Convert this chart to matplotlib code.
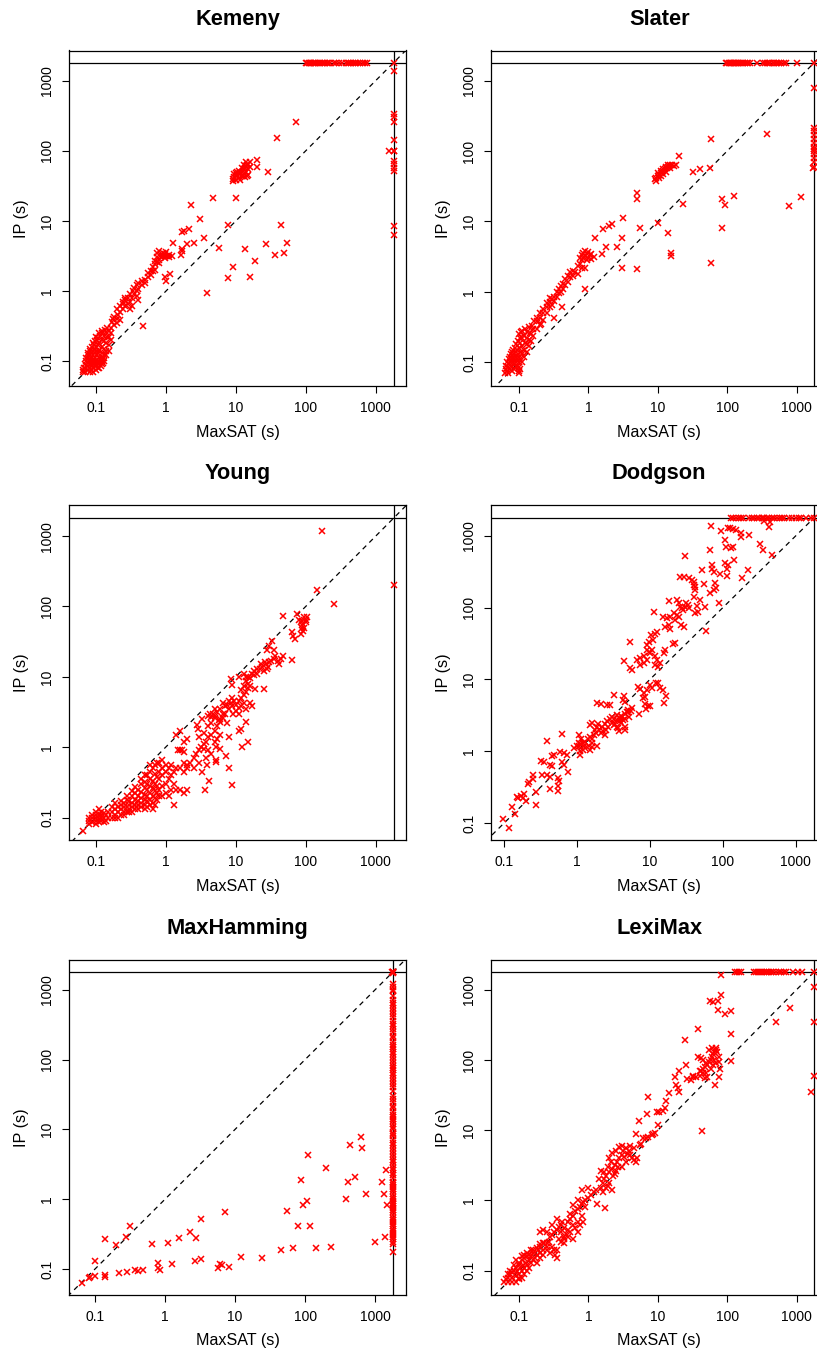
import matplotlib

matplotlib.use("Agg")
import matplotlib.pyplot as plt
from matplotlib.ticker import FixedFormatter, FixedLocator, NullLocator

plt.rcParams["font.family"] = ["Liberation Sans", "DejaVu Sans"]

TIMEOUT = 1800  # seconds, both solvers

# ---------------------------------------------------------------- Kemeny
# (MaxSAT seconds, IP seconds) for instances solved by both
kemeny_points = [
    (0.065, 0.07), (0.065, 0.075), (0.066, 0.08),
    (0.07, 0.07), (0.07, 0.08), (0.07, 0.09), (0.071, 0.1), (0.072, 0.11),
    (0.075, 0.075), (0.075, 0.085), (0.076, 0.095), (0.075, 0.11), (0.077, 0.12), (0.076, 0.13),
    (0.08, 0.07), (0.08, 0.08), (0.081, 0.09), (0.08, 0.1), (0.08, 0.12), (0.082, 0.14), (0.08, 0.15),
    (0.085, 0.075), (0.085, 0.09), (0.086, 0.1), (0.085, 0.11), (0.085, 0.13), (0.087, 0.16),
    (0.09, 0.08), (0.09, 0.09), (0.091, 0.1), (0.09, 0.12), (0.09, 0.14), (0.092, 0.17), (0.09, 0.18),
    (0.095, 0.085), (0.095, 0.1), (0.096, 0.11), (0.095, 0.13), (0.095, 0.15), (0.097, 0.19),
    (0.1, 0.075), (0.1, 0.09), (0.1, 0.1), (0.101, 0.12), (0.1, 0.14), (0.1, 0.16), (0.102, 0.2), (0.1, 0.22),
    (0.105, 0.08), (0.105, 0.1), (0.106, 0.13), (0.105, 0.17), (0.107, 0.21),
    (0.11, 0.09), (0.11, 0.11), (0.111, 0.14), (0.11, 0.18), (0.112, 0.23), (0.11, 0.25),
    (0.12, 0.11), (0.12, 0.13), (0.121, 0.16), (0.12, 0.2), (0.122, 0.25), (0.12, 0.27),
    (0.13, 0.12), (0.13, 0.15), (0.131, 0.19), (0.13, 0.23), (0.132, 0.28),
    (0.14, 0.14), (0.14, 0.18), (0.141, 0.22), (0.14, 0.26), (0.142, 0.3),
    (0.15, 0.17), (0.15, 0.22), (0.152, 0.27), (0.16, 0.2), (0.16, 0.25), (0.162, 0.3),
    (0.11, 0.08), (0.115, 0.085), (0.12, 0.09), (0.125, 0.095), (0.13, 0.1), (0.12, 0.1),
    (0.13, 0.11), (0.14, 0.12), (0.15, 0.14), (0.1, 0.085), (0.105, 0.09), (0.09, 0.07),
    (0.17, 0.36), (0.172, 0.4), (0.18, 0.33), (0.18, 0.42),
    (0.2, 0.35), (0.2, 0.4), (0.202, 0.45), (0.2, 0.55), (0.22, 0.38), (0.22, 0.5), (0.222, 0.6),
    (0.24, 0.55), (0.24, 0.65), (0.242, 0.7), (0.26, 0.6), (0.26, 0.75), (0.262, 0.8),
    (0.28, 0.65), (0.28, 0.8), (0.3, 0.55), (0.3, 0.7), (0.302, 0.9),
    (0.33, 0.6), (0.33, 0.8), (0.332, 1.0), (0.35, 0.9), (0.35, 1.1),
    (0.38, 0.85), (0.38, 1.0), (0.382, 1.2), (0.4, 0.75), (0.4, 1.05), (0.402, 1.3),
    (0.45, 1.2), (0.45, 1.4), (0.5, 1.3), (0.5, 1.45), (0.55, 1.6), (0.55, 1.8),
    (0.6, 1.7), (0.6, 1.9), (0.65, 1.9), (0.65, 2.2), (0.7, 2.0), (0.7, 2.4), (0.7, 2.7),
    (0.75, 2.6), (0.75, 3.0), (0.75, 3.5), (0.8, 2.5), (0.8, 2.8), (0.8, 3.7),
    (0.85, 3.0), (0.85, 3.3), (0.9, 3.2), (0.9, 3.5), (0.95, 2.9), (0.95, 3.1), (0.95, 3.4),
    (1.0, 3.2), (1.0, 3.6), (1.1, 3.0), (1.1, 3.3), (1.2, 3.2),
    (0.46, 0.32), (1.0, 1.4), (0.97, 1.6), (1.14, 1.75),
    (1.27, 4.9), (1.67, 7.0), (1.8, 7.2), (2.1, 7.7), (2.25, 17), (4.7, 21), (10, 21),
    (3.1, 10.6), (7.7, 8.6), (44, 8.6), (3.5, 5.6), (2.5, 4.9), (2.0, 4.6),
    (1.67, 4.0), (1.7, 3.7), (1.65, 3.3), (5.8, 4.1), (3.8, 0.92),
    (7.8, 1.55), (9, 2.2), (13.4, 3.9), (16, 1.6), (19, 2.65), (27, 4.6), (36, 3.3),
    (49, 3.5), (54, 4.9), (73, 255), (39, 153), (20, 74), (20, 59), (29, 49),
    (9, 40), (9.5, 42), (10, 44), (10.5, 45), (11, 47), (11.5, 48), (12, 50), (12.5, 52),
    (13, 55), (13.5, 57), (14, 60), (14.5, 62), (15, 65), (10, 38), (11, 41), (12, 44),
    (13, 46), (14, 50), (15, 54), (16, 58), (11, 52), (12, 57), (13, 62), (10.5, 50),
    (9.5, 46), (16, 68), (14, 68), (12.5, 44), (13.5, 42), (15, 45), (11.5, 38), (10, 48),
    (9.2, 37), (14.3, 44), (1570, 100),
]
# MaxSAT time of instances where IP hit the timeout
kemeny_ip_timeout = [
    100, 105, 110, 115, 120, 125, 130, 135, 140, 150, 160, 170, 180, 190, 200, 210, 220,
    250, 270, 300, 330, 380, 400, 420, 450, 480, 500, 530, 560, 600, 650, 700, 750, 1800,
]
# IP time of instances where MaxSAT hit the timeout
kemeny_maxsat_timeout = [1390, 330, 300, 260, 140, 100, 98, 72, 65, 57, 52, 8.5, 6.2]

# ---------------------------------------------------------------- Slater
slater_points = [
    (0.062, 0.07), (0.065, 0.08), (0.066, 0.09), (0.068, 0.1), (0.068, 0.075),
    (0.07, 0.07), (0.07, 0.085), (0.072, 0.095), (0.072, 0.11), (0.073, 0.12),
    (0.075, 0.08), (0.076, 0.09), (0.075, 0.1), (0.077, 0.13), (0.078, 0.14),
    (0.08, 0.075), (0.08, 0.085), (0.081, 0.1), (0.08, 0.11), (0.082, 0.12), (0.081, 0.15),
    (0.085, 0.08), (0.085, 0.095), (0.086, 0.11), (0.085, 0.13), (0.087, 0.16),
    (0.09, 0.085), (0.09, 0.1), (0.091, 0.12), (0.09, 0.14), (0.092, 0.18),
    (0.095, 0.09), (0.095, 0.11), (0.096, 0.13), (0.095, 0.15), (0.097, 0.2),
    (0.1, 0.07), (0.1, 0.075), (0.1, 0.085), (0.1, 0.1), (0.101, 0.12), (0.1, 0.16),
    (0.102, 0.22), (0.1, 0.25), (0.105, 0.08), (0.105, 0.11), (0.106, 0.14),
    (0.105, 0.19), (0.107, 0.27), (0.11, 0.1), (0.11, 0.13), (0.111, 0.17), (0.11, 0.22),
    (0.112, 0.28), (0.12, 0.12), (0.12, 0.15), (0.121, 0.19), (0.12, 0.24), (0.122, 0.3),
    (0.13, 0.14), (0.13, 0.18), (0.131, 0.22), (0.13, 0.27), (0.14, 0.17), (0.14, 0.21),
    (0.142, 0.26), (0.14, 0.32), (0.15, 0.2), (0.15, 0.25), (0.152, 0.33),
    (0.16, 0.24), (0.16, 0.3), (0.162, 0.38), (0.18, 0.3), (0.18, 0.38), (0.182, 0.43),
    (0.2, 0.34), (0.2, 0.42), (0.202, 0.5), (0.22, 0.4), (0.22, 0.5), (0.225, 0.58),
    (0.25, 0.5), (0.25, 0.6), (0.252, 0.7), (0.28, 0.6), (0.28, 0.72), (0.282, 0.82),
    (0.3, 0.65), (0.3, 0.78), (0.32, 0.75), (0.32, 0.85), (0.35, 0.85), (0.35, 1.0),
    (0.38, 0.95), (0.38, 1.1), (0.4, 1.0), (0.4, 1.2), (0.43, 1.1), (0.43, 1.3),
    (0.46, 1.25), (0.46, 1.5), (0.5, 1.4), (0.5, 1.7), (0.55, 1.6), (0.55, 1.9),
    (0.6, 1.7), (0.6, 2.0), (0.65, 1.9), (0.7, 1.8), (0.7, 2.3), (0.75, 2.5), (0.75, 3.0),
    (0.8, 2.2), (0.8, 2.8), (0.8, 3.3), (0.85, 3.0), (0.85, 3.6), (0.9, 2.2), (0.9, 3.2),
    (0.9, 3.8), (0.95, 2.8), (0.95, 3.5), (1.0, 3.0), (1.0, 3.7), (1.05, 3.3), (1.1, 2.9),
    (1.1, 3.4), (1.2, 3.1),
    (0.21, 0.35), (0.32, 0.42), (0.41, 0.6), (0.9, 1.1),
    (1.25, 5.9), (3.1, 5.8), (1.56, 3.5), (1.8, 4.4), (2.6, 4.3), (1.65, 7.7), (1.95, 8.5),
    (2.2, 9.3), (3.2, 11.3), (3.05, 2.2), (5, 2.1), (5.1, 25), (5.1, 21), (5.5, 8),
    (10, 9.4), (14, 6.9), (15.3, 3.6), (15.3, 3.2), (23, 17.6), (58, 150), (380, 175),
    (20, 85), (32, 51), (41, 55), (56, 58), (85, 21), (92, 17), (125, 23), (780, 16.5),
    (1140, 22), (85, 8.1), (59, 2.55),
    (9, 40), (9.5, 42), (10, 44), (10.5, 46), (11, 48), (11.5, 50), (12, 52), (12.5, 55),
    (13, 57), (13.5, 58), (14, 60), (14.5, 62), (15, 63), (16, 64), (17, 62), (18, 64),
    (10, 48), (11, 52), (12, 55), (13, 60), (14, 64), (15, 58), (11, 44), (12, 47),
    (13, 50), (9.5, 38), (10.5, 41), (1700, 57),
]
slater_ip_timeout = [
    95, 100, 105, 110, 115, 120, 125, 130, 135, 140, 145, 150, 160, 170, 180, 190, 200,
    210, 270, 330, 350, 380, 400, 420, 450, 480, 500, 530, 560, 600, 650, 700, 1000, 1800,
]
slater_maxsat_timeout = [780, 210, 190, 170, 150, 130, 115, 105, 100, 90, 80, 70, 60]

# ---------------------------------------------------------------- Young
young_points = [
    (0.065, 0.065), (0.08, 0.08), (0.08, 0.09), (0.08, 0.1), (0.09, 0.085), (0.09, 0.1),
    (0.09, 0.11), (0.1, 0.08), (0.1, 0.09), (0.1, 0.1), (0.1, 0.11), (0.1, 0.12),
    (0.11, 0.085), (0.11, 0.095), (0.11, 0.11), (0.11, 0.13), (0.12, 0.09), (0.12, 0.1),
    (0.12, 0.11), (0.12, 0.12), (0.13, 0.085), (0.13, 0.1), (0.13, 0.115), (0.14, 0.09),
    (0.14, 0.11), (0.15, 0.1), (0.15, 0.12), (0.17, 0.1), (0.17, 0.12), (0.17, 0.14),
    (0.19, 0.1), (0.19, 0.11), (0.19, 0.13), (0.19, 0.16), (0.21, 0.1), (0.21, 0.12),
    (0.21, 0.14), (0.23, 0.11), (0.23, 0.13), (0.23, 0.15), (0.23, 0.17), (0.25, 0.11),
    (0.25, 0.12), (0.25, 0.14), (0.25, 0.16), (0.28, 0.12), (0.28, 0.14), (0.28, 0.18),
    (0.28, 0.2), (0.3, 0.12), (0.3, 0.13), (0.3, 0.15), (0.3, 0.17), (0.33, 0.12),
    (0.33, 0.14), (0.33, 0.16), (0.33, 0.2), (0.33, 0.24), (0.36, 0.13), (0.36, 0.15),
    (0.36, 0.18), (0.36, 0.22), (0.36, 0.27), (0.4, 0.13), (0.4, 0.15), (0.4, 0.17),
    (0.4, 0.2), (0.4, 0.25), (0.45, 0.14), (0.45, 0.16), (0.45, 0.19), (0.45, 0.23),
    (0.45, 0.3), (0.45, 0.35), (0.5, 0.13), (0.5, 0.15), (0.5, 0.18), (0.5, 0.21),
    (0.5, 0.26), (0.5, 0.32), (0.5, 0.4), (0.55, 0.14), (0.55, 0.17), (0.55, 0.2),
    (0.55, 0.25), (0.55, 0.3), (0.55, 0.4), (0.6, 0.15), (0.6, 0.18), (0.6, 0.22),
    (0.6, 0.28), (0.6, 0.35), (0.6, 0.45), (0.6, 0.55), (0.65, 0.13), (0.65, 0.16),
    (0.65, 0.2), (0.65, 0.26), (0.65, 0.33), (0.65, 0.5), (0.7, 0.15), (0.7, 0.19),
    (0.7, 0.24), (0.7, 0.3), (0.7, 0.42), (0.7, 0.55), (0.75, 0.18), (0.75, 0.22),
    (0.75, 0.28), (0.75, 0.38), (0.75, 0.6), (0.8, 0.2), (0.8, 0.25), (0.8, 0.35),
    (0.8, 0.45), (0.8, 0.6), (0.9, 0.2), (0.9, 0.28), (0.9, 0.4), (0.9, 0.5), (0.9, 0.65),
    (1.0, 0.22), (1.0, 0.3), (1.0, 0.45), (1.0, 0.55), (1.1, 0.2), (1.1, 0.35), (1.1, 0.5),
    (1.2, 0.25), (1.2, 0.4), (1.2, 0.55), (1.3, 0.15), (1.3, 0.3), (1.3, 0.45),
    (1.4, 0.25), (1.4, 0.5), (1.4, 1.5), (1.5, 0.9), (1.6, 0.25), (1.6, 0.5), (1.6, 0.9),
    (1.6, 1.7), (1.7, 0.9), (1.8, 0.22), (1.8, 0.45), (1.8, 0.6), (1.8, 0.85), (1.8, 1.2),
    (2.0, 0.25), (2.0, 0.5), (2.0, 1.3),
    (2, 0.55), (2.2, 0.6), (2.5, 0.7), (2.7, 0.8), (3, 0.9), (3.2, 1.0), (3.5, 1.1),
    (3.8, 1.2), (4, 1.4), (4.5, 1.5), (5, 1.7), (5.5, 2.0), (6, 2.3), (6.5, 2.6), (3, 1.4),
    (3.5, 1.6), (4, 2.0), (4.5, 2.2), (5, 2.6), (2.8, 2.1), (2.9, 1.8), (3.3, 2.5),
    (4, 2.8), (4.3, 3.0), (5, 1.2), (5.5, 1.3), (6, 1.5), (4.5, 0.8), (4, 0.9), (3, 0.6),
    (2.5, 0.5), (3.8, 0.7), (6, 0.95), (5.2, 1.0), (5.2, 0.65), (5.3, 0.62), (3.5, 0.95),
    (3.3, 0.45), (3.9, 0.55), (4.2, 0.33), (3.7, 0.245), (7.3, 0.76), (8.1, 0.5),
    (9, 0.29), (7.4, 2.2), (8, 1.4),
    (5, 2.8), (5.5, 3.2), (6, 3.5), (6.5, 3.0), (7, 3.8), (7.5, 4.0), (8, 3.5), (8.5, 4.2),
    (9, 3.8), (9.5, 4.5), (10, 4.0), (11, 4.5), (12, 5.0), (13, 5.5), (14, 6.0), (15, 7.0),
    (12, 3.8), (10, 3.3), (11, 3.6), (8, 4.5), (7, 3.0), (6, 2.5), (5, 3.5), (6.5, 4.2),
    (9, 5), (13, 4.2), (16, 4.2), (17, 3.8), (14, 3.5), (5.8, 2.4), (4.5, 2.7), (4.8, 3.0),
    (16, 7.5), (15, 8), (14, 8.8), (13, 7.5), (12, 6.5), (9.2, 3.0), (11, 3.0), (11, 1.7),
    (12, 1.8), (14.2, 2.3), (12.3, 1.0), (15, 1.2), (8.5, 9.2), (9, 7.6), (11, 10),
    (13, 11), (14, 10), (19, 6.8), (25, 6.8),
    (15, 10), (17, 11), (18, 12), (20, 11), (22, 13), (24, 14), (25, 12), (27, 15),
    (28, 13), (30, 16), (32, 17), (35, 18), (20, 13), (16, 9.5), (18, 10.5), (23, 15),
    (26, 16), (29, 14), (33, 32), (30, 27), (28, 24), (35, 24), (37, 20), (40, 17),
    (47, 20), (45, 18), (42, 15), (64, 17.5), (63, 44), (66, 38), (70, 35),
    (80, 65), (85, 60), (90, 55), (95, 70), (100, 65), (88, 50), (92, 45), (85, 40),
    (100, 60), (105, 70), (90, 62), (95, 50), (48, 74), (74, 79), (145, 170), (250, 108),
    (173, 1190),
]
young_ip_timeout = []
young_maxsat_timeout = [200]

# ---------------------------------------------------------------- Dodgson
dodgson_points = [
    (0.097, 0.115), (0.116, 0.086), (0.13, 0.165), (0.14, 0.135), (0.148, 0.23),
    (0.155, 0.22), (0.17, 0.24), (0.18, 0.22), (0.19, 0.25), (0.2, 0.2), (0.21, 0.35),
    (0.22, 0.37), (0.25, 0.46), (0.25, 0.41), (0.27, 0.27), (0.27, 0.18), (0.32, 0.73),
    (0.35, 0.71), (0.33, 0.46), (0.39, 0.46), (0.43, 0.44), (0.39, 1.39), (0.43, 0.64),
    (0.45, 0.63), (0.49, 0.88), (0.46, 0.86), (0.58, 0.98), (0.66, 0.95), (0.72, 0.9),
    (0.62, 0.7), (0.67, 0.65), (0.62, 1.73), (0.54, 0.42), (0.56, 0.38), (0.74, 0.52),
    (0.55, 0.33), (0.42, 0.3), (0.55, 0.28),
    (0.9, 1.1), (1.0, 1.2), (1.05, 1.3), (1.1, 1.25), (1.2, 1.3), (1.3, 1.35), (1.4, 1.5),
    (1.5, 1.6), (1.6, 1.5), (1.7, 1.7), (1.8, 1.8), (1.1, 1.0), (1.2, 1.05), (1.3, 1.1),
    (1.15, 1.5), (1.25, 1.2), (1.45, 1.2), (1.6, 1.3), (1.05, 1.7), (1.5, 2.3), (1.6, 2.5),
    (1.75, 2.0), (1.85, 2.2), (1.95, 2.4), (1.1, 0.88), (1.05, 1.2), (1.5, 1.05),
    (1.6, 1.15), (1.9, 1.2),
    (2, 2.0), (2.2, 2.2), (2.4, 2.4), (2.6, 2.6), (2.8, 2.8), (3, 3.0), (3.2, 2.8),
    (3.5, 2.7), (3.8, 2.9), (4, 3.1), (4.2, 3.0), (4.5, 3.3), (4.8, 3.5), (5, 3.8),
    (5.5, 3.6), (3, 2.5), (3.3, 2.4), (2.7, 2.2), (2.5, 2.0), (2.3, 1.9), (4, 2.5),
    (4.5, 2.2), (3.7, 2.1), (2.1, 1.8), (2.4, 1.7), (3.5, 3.2), (3.9, 2.6), (4.3, 2.7),
    (4.6, 2.8), (5.2, 3.0), (3.2, 2.3), (3.5, 2.2), (3.8, 1.9), (4.5, 2.0), (7, 3.3),
    (1.9, 4.7), (2.1, 4.5), (2.6, 4.4), (2.8, 4.4), (3.2, 6.0), (4.4, 5.9), (4.3, 5.2),
    (4.5, 4.8), (5, 3.5), (5.6, 4.0),
    (6.8, 7.9), (7.2, 7.3), (8.2, 6.4), (8.6, 5.7), (9.1, 7.1), (8, 5.5), (8.6, 4.5),
    (9.4, 4.2), (9.9, 4.3), (8.9, 3.9), (10, 8.3), (10.6, 7.5), (12.2, 8.8), (13, 8.8),
    (13.9, 7.7), (15, 7.2), (16.5, 5.8), (15.8, 4.7),
    (4.4, 18), (5.3, 14.5), (5.6, 13.5), (5.4, 33), (6.6, 18.6), (7.4, 19.7), (8.2, 20.9),
    (9.1, 25.6), (9.6, 24.3), (10.1, 23), (10.7, 25.6), (11.8, 20.9), (12.5, 18.6),
    (13.9, 16.7), (15.4, 23), (16.2, 25.6), (8.2, 16.7), (7.4, 15.8), (9.1, 18.6),
    (11.8, 15.8), (13, 15), (10.3, 41), (11.8, 43.5), (12.5, 46), (11, 35), (9.7, 33),
    (9.1, 30), (11.4, 86), (15, 75), (17, 71), (18, 122), (18.6, 75), (18, 57), (19, 51),
    (16.2, 53), (26.6, 57), (29.6, 53), (22, 32), (21, 31), (59, 48),
    (23.5, 128), (24.7, 115), (26, 103), (27.3, 98), (28.6, 93), (30, 103), (31.5, 115),
    (33, 109), (34.6, 98), (21.4, 83), (23.5, 79), (24.7, 75), (22.4, 67),
    (26, 268), (29, 270), (34, 255), (38, 240), (40, 230), (40, 210), (42, 195), (41, 175),
    (40, 140), (44, 107), (45, 86), (42, 83), (49, 127), (66, 160), (89, 115), (57, 101),
    (78, 218), (80, 190), (76, 177), (55, 216), (30, 520), (52, 340), (71, 390), (72, 345),
    (75, 310), (92, 290), (113, 280), (106, 420), (143, 460), (117, 390), (113, 345),
    (185, 260), (218, 330), (67, 630), (108, 870), (111, 700), (131, 670), (137, 700),
    (69, 1360), (94, 1160), (116, 1270), (126, 1300), (137, 1240), (150, 1200),
    (178, 1080), (180, 950), (225, 1020), (325, 780), (360, 630), (470, 550), (435, 1340),
    (440, 1570), (370, 1600), (355, 1750),
]
dodgson_ip_timeout = [
    130, 140, 150, 165, 180, 190, 230, 250, 270, 290, 310, 340, 370, 400, 430, 470, 500,
    550, 600, 650, 700, 800, 900, 1000, 1100, 1200, 1400, 1600, 1800,
]
dodgson_maxsat_timeout = []

# ---------------------------------------------------------------- MaxHamming
maxhamming_points = [
    (0.065, 0.064), (0.082, 0.076), (0.087, 0.079), (0.1, 0.081), (0.102, 0.132),
    (0.14, 0.082), (0.14, 0.077), (0.14, 0.27), (0.2, 0.225), (0.22, 0.09), (0.28, 0.29),
    (0.29, 0.093), (0.32, 0.42), (0.38, 0.098), (0.42, 0.096), (0.49, 0.098), (0.66, 0.23),
    (0.79, 0.124), (0.81, 0.103), (0.84, 0.097), (1.1, 0.235), (1.25, 0.12), (1.6, 0.28),
    (2.3, 0.34), (2.8, 0.28), (2.7, 0.132), (3.3, 0.14), (3.3, 0.52), (5.7, 0.105),
    (6.2, 0.12), (6.5, 0.115), (7.3, 0.67), (8.3, 0.107), (12, 0.148), (24, 0.147),
    (45, 0.19), (56, 0.68), (67, 0.2), (79, 0.41), (86, 1.9), (92, 0.83), (105, 0.95),
    (108, 4.3), (117, 0.41), (142, 0.2), (200, 2.8), (237, 0.21), (380, 1.0), (410, 1.8),
    (440, 6), (510, 2.1), (630, 7.9), (650, 5.4), (740, 1.2), (1000, 0.25), (1230, 1.8),
    (1350, 1.2), (1370, 0.29), (1400, 2.6), (1450, 0.84), (1750, 1800),
]
maxhamming_ip_timeout = [1800, 1800, 1800]
maxhamming_maxsat_timeout = [
    1750, 1200, 1100, 1000, 950, 800, 700, 650, 600, 550, 500, 450, 400, 350, 320, 300,
    270, 250, 220, 200, 180, 160, 150, 140, 130, 120, 110, 100, 90, 80, 75, 70, 65, 60,
    55, 50, 45, 40, 35, 30, 27, 25, 22, 20, 18, 16, 15, 14, 13, 12, 11, 10, 9, 8.5, 8, 7,
    6.5, 6, 5.5, 5, 4.5, 4, 3.7, 3.4, 3.1, 2.8, 2.6, 2.4, 2.2, 2, 1.8, 1.7, 1.6, 1.5,
    1.4, 1.3, 1.2, 1.1, 1.0, 0.95, 0.9, 0.85, 0.8, 0.75, 0.7, 0.65, 0.6, 0.55, 0.5, 0.47,
    0.44, 0.41, 0.38, 0.35, 0.33, 0.31, 0.29, 0.27, 0.25, 0.23, 0.18,
]

# ---------------------------------------------------------------- LexiMax
leximax_points = [
    (0.065, 0.075), (0.07, 0.08), (0.07, 0.07), (0.075, 0.09), (0.08, 0.08), (0.08, 0.095),
    (0.085, 0.1), (0.09, 0.085), (0.09, 0.11), (0.095, 0.1), (0.1, 0.09), (0.1, 0.12),
    (0.1, 0.13), (0.105, 0.11), (0.11, 0.1), (0.11, 0.14), (0.115, 0.12), (0.12, 0.11),
    (0.12, 0.15), (0.125, 0.13), (0.13, 0.12), (0.13, 0.16), (0.14, 0.14), (0.14, 0.11),
    (0.15, 0.13), (0.15, 0.16), (0.16, 0.14), (0.16, 0.18), (0.17, 0.15), (0.18, 0.13),
    (0.18, 0.17), (0.19, 0.2), (0.2, 0.15), (0.2, 0.18), (0.22, 0.17), (0.22, 0.2),
    (0.25, 0.22), (0.09, 0.07), (0.1, 0.075), (0.11, 0.08), (0.08, 0.07), (0.1, 0.08),
    (0.12, 0.09), (0.13, 0.1), (0.075, 0.1), (0.085, 0.12), (0.09, 0.14), (0.11, 0.16),
    (0.12, 0.17), (0.13, 0.18), (0.14, 0.17), (0.15, 0.2), (0.16, 0.2), (0.18, 0.21),
    (0.2, 0.24), (0.23, 0.25), (0.07, 0.09), (0.06, 0.07),
    (0.2, 0.22), (0.22, 0.25), (0.25, 0.25), (0.28, 0.3), (0.3, 0.32), (0.32, 0.35),
    (0.35, 0.38), (0.38, 0.42), (0.4, 0.45), (0.42, 0.5), (0.3, 0.22), (0.32, 0.2),
    (0.35, 0.2), (0.4, 0.26), (0.45, 0.28), (0.25, 0.2), (0.28, 0.18), (0.33, 0.17),
    (0.35, 0.15), (0.2, 0.35), (0.22, 0.38), (0.25, 0.35), (0.3, 0.45), (0.35, 0.55),
    (0.4, 0.35), (0.45, 0.25), (0.48, 0.33), (0.38, 0.28), (0.27, 0.26),
    (0.5, 0.5), (0.55, 0.55), (0.6, 0.6), (0.65, 0.7), (0.7, 0.75), (0.75, 0.8),
    (0.8, 0.9), (0.85, 0.95), (0.9, 1.0), (1.0, 1.1), (1.1, 1.2), (1.2, 1.3), (1.3, 1.4),
    (0.6, 0.45), (0.7, 0.5), (0.8, 0.6), (0.75, 0.45), (0.65, 0.4), (0.5, 0.38),
    (0.55, 0.35), (0.45, 0.4), (0.8, 1.4), (0.7, 1.0), (0.6, 0.85), (1.0, 1.5), (0.9, 0.8),
    (0.55, 0.65), (0.5, 0.3), (0.6, 0.28), (0.45, 0.3), (0.7, 0.35), (0.85, 0.5),
    (1.5, 1.5), (1.6, 1.8), (1.7, 2.0), (1.8, 2.2), (2, 2.5), (2.2, 2.8), (2.4, 3.2),
    (2.6, 3.5), (2.8, 4.0), (3, 4.5), (3.2, 5.0), (3.5, 5.5), (3.8, 5.0), (4, 4.5),
    (4.2, 4.0), (4.5, 3.8), (4.8, 3.5), (5, 4.0), (2, 4.0), (2.2, 4.8), (2.5, 5.0),
    (2.8, 5.8), (3, 6.0), (3.3, 4.2), (3.5, 3.5), (3, 3.0), (2.5, 2.6), (2.3, 2.2),
    (2, 1.8), (1.8, 1.5), (1.6, 1.3), (1.4, 2.0), (1.5, 2.6), (1.7, 2.5), (1.9, 3.0),
    (2.1, 3.5), (4.5, 5.5), (4, 6), (3.7, 4.6), (2.7, 3.0), (2.4, 2.4), (1.9, 1.6),
    (2.2, 1.4), (1.75, 0.79), (1.32, 0.88),
    (4.9, 8.8), (6.2, 7.7), (6.7, 7.7), (7.3, 8.1), (8.2, 8.5), (8.6, 8.8), (9.1, 9.0),
    (5.6, 6.2), (5.8, 6.4), (5.3, 13.6), (6.9, 17), (7.2, 30), (9.6, 18), (10.4, 18),
    (10, 12), (12.8, 20.5), (12, 19), (13, 26), (14.5, 34), (18, 44), (19.5, 40), (20, 35),
    (17.5, 58), (20.5, 70), (25.5, 85), (26.5, 53), (32, 58), (24.6, 192), (38.5, 280),
    (44, 9.8),
    (40, 60), (42, 70), (45, 75), (48, 80), (50, 90), (52, 85), (55, 95), (58, 100),
    (60, 110), (62, 120), (65, 130), (68, 140), (70, 150), (72, 130), (75, 110), (60, 150),
    (55, 140), (65, 100), (50, 65), (45, 65), (40, 70), (38, 110), (42, 105), (58, 75),
    (63, 85), (70, 90), (75, 95), (48, 55), (35, 58), (30, 52), (32, 60), (67, 44),
    (75, 57), (78, 75), (45, 100), (52, 58),
    (113, 98), (112, 232), (93, 445), (115, 490), (73, 510), (81, 840), (74, 700),
    (63, 670), (57, 700), (81, 1610), (510, 350), (800, 545), (1600, 35),
]
leximax_ip_timeout = [
    130, 140, 150, 160, 240, 260, 280, 300, 320, 340, 360, 380, 400, 430, 460, 500, 550,
    600, 650, 700, 900, 1050, 1200, 1800,
]
leximax_maxsat_timeout = [1100, 350, 60]

# ---------------------------------------------------------------- layout
PANELS = [
    ("Kemeny", kemeny_points, kemeny_ip_timeout, kemeny_maxsat_timeout),
    ("Slater", slater_points, slater_ip_timeout, slater_maxsat_timeout),
    ("Young", young_points, young_ip_timeout, young_maxsat_timeout),
    ("Dodgson", dodgson_points, dodgson_ip_timeout, dodgson_maxsat_timeout),
    ("MaxHamming", maxhamming_points, maxhamming_ip_timeout, maxhamming_maxsat_timeout),
    ("LexiMax", leximax_points, leximax_ip_timeout, leximax_maxsat_timeout),
]

# axis ranges (seconds) as drawn in the original figure
LIMITS = {
    "Kemeny": ((0.0411, 2690), (0.0440, 2690)),
    "Slater": ((0.0395, 2780), (0.0461, 2670)),
    "Young": ((0.0420, 2685), (0.0479, 2818)),
    "Dodgson": ((0.0660, 2720), (0.0580, 2735)),
    "MaxHamming": ((0.0435, 2710), (0.0430, 2690)),
    "LexiMax": ((0.0395, 2780), (0.0451, 2690)),
}

FIG_W, FIG_H = 817, 1355
AX_W, AX_H = 336.4, 335.5
COL_LEFT = [69.3, 491.0]
ROW_BOTTOM = [386.0, 840.0, 1295.0]

TICKS = [0.1, 1, 10, 100, 1000]
TICK_LABELS = ["0.1", "1", "10", "100", "1000"]

fig = plt.figure(figsize=(FIG_W / 100, FIG_H / 100), dpi=100)

for index, (title, points, ip_timeout, maxsat_timeout) in enumerate(PANELS):
    row, col = divmod(index, 2)
    ax = fig.add_axes([
        COL_LEFT[col] / FIG_W,
        1 - ROW_BOTTOM[row] / FIG_H,
        AX_W / FIG_W,
        AX_H / FIG_H,
    ])
    ax.set_xscale("log")
    ax.set_yscale("log")

    ax.axhline(TIMEOUT, color="black", lw=0.9, zorder=1)
    ax.axvline(TIMEOUT, color="black", lw=0.9, zorder=1)
    ax.plot([1e-3, 1e5], [1e-3, 1e5], color="black", lw=0.9,
            linestyle=(0, (4, 3.5)), zorder=1)

    xs = [p[0] for p in points] + list(ip_timeout) + [TIMEOUT] * len(maxsat_timeout)
    ys = [p[1] for p in points] + [TIMEOUT] * len(ip_timeout) + list(maxsat_timeout)
    ax.plot(xs, ys, linestyle="none", marker="x", color="#ff0000",
            markersize=4.9, markeredgewidth=1.1, zorder=3)

    (x0, x1), (y0, y1) = LIMITS[title]
    ax.set_xlim(x0, x1)
    ax.set_ylim(y0, y1)

    for axis in (ax.xaxis, ax.yaxis):
        axis.set_major_locator(FixedLocator(TICKS))
        axis.set_major_formatter(FixedFormatter(TICK_LABELS))
        axis.set_minor_locator(NullLocator())
    ax.tick_params(direction="out", length=4.8, width=0.8, labelsize=10, pad=6,
                   colors="black")
    for label in ax.get_yticklabels():
        label.set_rotation(90)
        label.set_va("center")

    for spine in ax.spines.values():
        spine.set_linewidth(0.9)
        spine.set_color("black")

    ax.set_title(title, fontsize=15.7, fontweight="bold", pad=18.5)
    ax.set_xlabel("MaxSAT (s)", fontsize=11.6, va="center")
    ax.set_ylabel("IP (s)", fontsize=11.6, va="center")
    ax.xaxis.set_label_coords(0.5, -46 / AX_H)
    ax.yaxis.set_label_coords(-47.6 / AX_W, 0.5)

fig.savefig("out.png", dpi=100)
